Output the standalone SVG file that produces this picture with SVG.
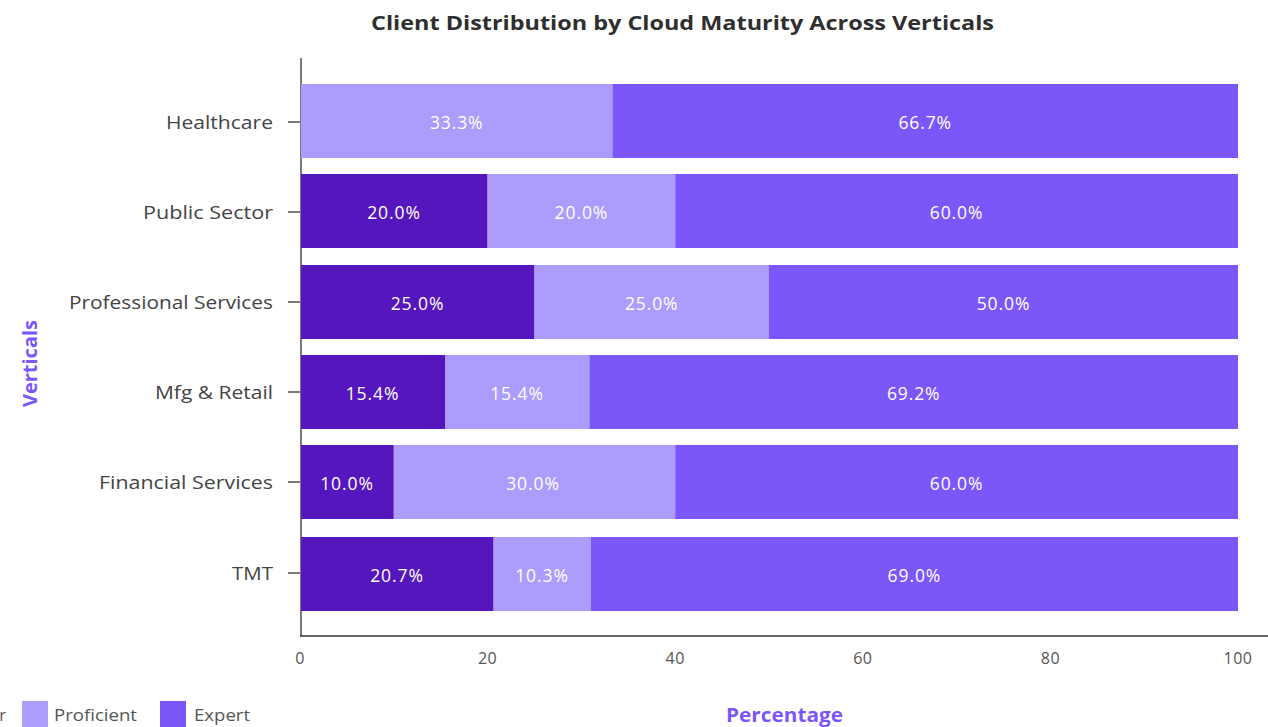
<svg xmlns="http://www.w3.org/2000/svg" width="1268" height="727" viewBox="0 0 1268 727">
<style>
.t{font-family:"Open Sans","Liberation Sans",sans-serif}
.title{font-size:20px;font-weight:700;fill:#2f2f2f}
.cat{font-size:18px;fill:#444;text-anchor:end}
.val{font-size:17.5px;fill:#fff;text-anchor:middle;letter-spacing:0.9px}
.tick{font-size:16px;fill:#555;text-anchor:middle;letter-spacing:0.5px}
.axt{font-size:19px;font-weight:700;fill:#7b57fa}
.leg{font-size:16.5px;fill:#555}
.b{fill:#5516be}.p{fill:#ac9cfc}.e{fill:#7b57fa}
.ax{stroke:#333;stroke-width:1.3;fill:none}
</style>
<rect width="1268" height="727" fill="#fff"/>
<text class="t title" x="371" y="30" textLength="623" lengthAdjust="spacingAndGlyphs">Client Distribution by Cloud Maturity Across Verticals</text>
<g id="axes">
<line class="ax" x1="301" y1="58" x2="301" y2="636"/>
<line class="ax" x1="300" y1="636" x2="1268" y2="636"/>
<g class="ax"><line x1="288" y1="122" x2="300" y2="122"/><line x1="288" y1="212" x2="300" y2="212"/><line x1="288" y1="302" x2="300" y2="302"/><line x1="288" y1="392" x2="300" y2="392"/><line x1="288" y1="482" x2="300" y2="482"/><line x1="288" y1="573" x2="300" y2="573"/></g>
<g class="t tick"><text x="300" y="664">0</text><text x="487.6" y="664">20</text><text x="675.2" y="664">40</text><text x="862.8" y="664">60</text><text x="1050.4" y="664">80</text><text x="1238" y="664">100</text></g>
<text class="t axt" x="726" y="722" textLength="117" lengthAdjust="spacingAndGlyphs">Percentage</text>
<text class="t axt" transform="translate(37,407) rotate(-90)" textLength="87" lengthAdjust="spacingAndGlyphs">Verticals</text>
</g>
<g id="healthcare">
<text class="t cat" x="273" y="129" textLength="107" lengthAdjust="spacingAndGlyphs">Healthcare</text>
<rect class="p" x="301" y="84" width="311.4" height="74"/><rect class="e" x="612.4" y="84" width="625.6" height="74"/>
<text class="t val" x="456.7" y="129">33.3%</text><text class="t val" x="925.2" y="129">66.7%</text>
</g>
<g id="public-sector">
<text class="t cat" x="273" y="219" textLength="130" lengthAdjust="spacingAndGlyphs">Public Sector</text>
<rect class="b" x="301" y="174" width="186.6" height="74"/><rect class="p" x="487.6" y="174" width="187.6" height="74"/><rect class="e" x="675.2" y="174" width="562.8" height="74"/>
<text class="t val" x="394" y="219">20.0%</text><text class="t val" x="581.4" y="219">20.0%</text><text class="t val" x="956.6" y="219">60.0%</text>
</g>
<g id="professional-services">
<text class="t cat" x="273" y="309" textLength="204" lengthAdjust="spacingAndGlyphs">Professional Services</text>
<rect class="b" x="301" y="265" width="233.5" height="74"/><rect class="p" x="534.5" y="265" width="234.5" height="74"/><rect class="e" x="769" y="265" width="469" height="74"/>
<text class="t val" x="417.5" y="310">25.0%</text><text class="t val" x="651.7" y="310">25.0%</text><text class="t val" x="1003.5" y="310">50.0%</text>
</g>
<g id="mfg-retail">
<text class="t cat" x="273" y="399" textLength="118" lengthAdjust="spacingAndGlyphs">Mfg &amp; Retail</text>
<rect class="b" x="301" y="355" width="144.5" height="74"/><rect class="p" x="445.5" y="355" width="143.9" height="74"/><rect class="e" x="589.4" y="355" width="648.6" height="74"/>
<text class="t val" x="372.5" y="400">15.4%</text><text class="t val" x="517" y="400">15.4%</text><text class="t val" x="913.7" y="400">69.2%</text>
</g>
<g id="financial-services">
<text class="t cat" x="273" y="489" textLength="174" lengthAdjust="spacingAndGlyphs">Financial Services</text>
<rect class="b" x="301" y="445" width="92.8" height="74"/><rect class="p" x="393.8" y="445" width="281.4" height="74"/><rect class="e" x="675.2" y="445" width="562.8" height="74"/>
<text class="t val" x="347" y="490">10.0%</text><text class="t val" x="533" y="490">30.0%</text><text class="t val" x="956.6" y="490">60.0%</text>
</g>
<g id="tmt">
<text class="t cat" x="273" y="580" textLength="41" lengthAdjust="spacingAndGlyphs">TMT</text>
<rect class="b" x="301" y="537" width="192.6" height="74"/><rect class="p" x="493.6" y="537" width="97.2" height="74"/><rect class="e" x="590.8" y="537" width="647.2" height="74"/>
<text class="t val" x="397" y="582">20.7%</text><text class="t val" x="542" y="582">10.3%</text><text class="t val" x="914.4" y="582">69.0%</text>
</g>
<g id="legend">
<text class="t leg" x="6" y="721" text-anchor="end">Beginner</text>
<rect class="p" x="22" y="701" width="26" height="27"/>
<text class="t leg" x="54" y="721" textLength="83" lengthAdjust="spacingAndGlyphs">Proficient</text>
<rect class="e" x="160" y="701" width="26" height="27"/>
<text class="t leg" x="194" y="721" textLength="56" lengthAdjust="spacingAndGlyphs">Expert</text>
</g>
</svg>
